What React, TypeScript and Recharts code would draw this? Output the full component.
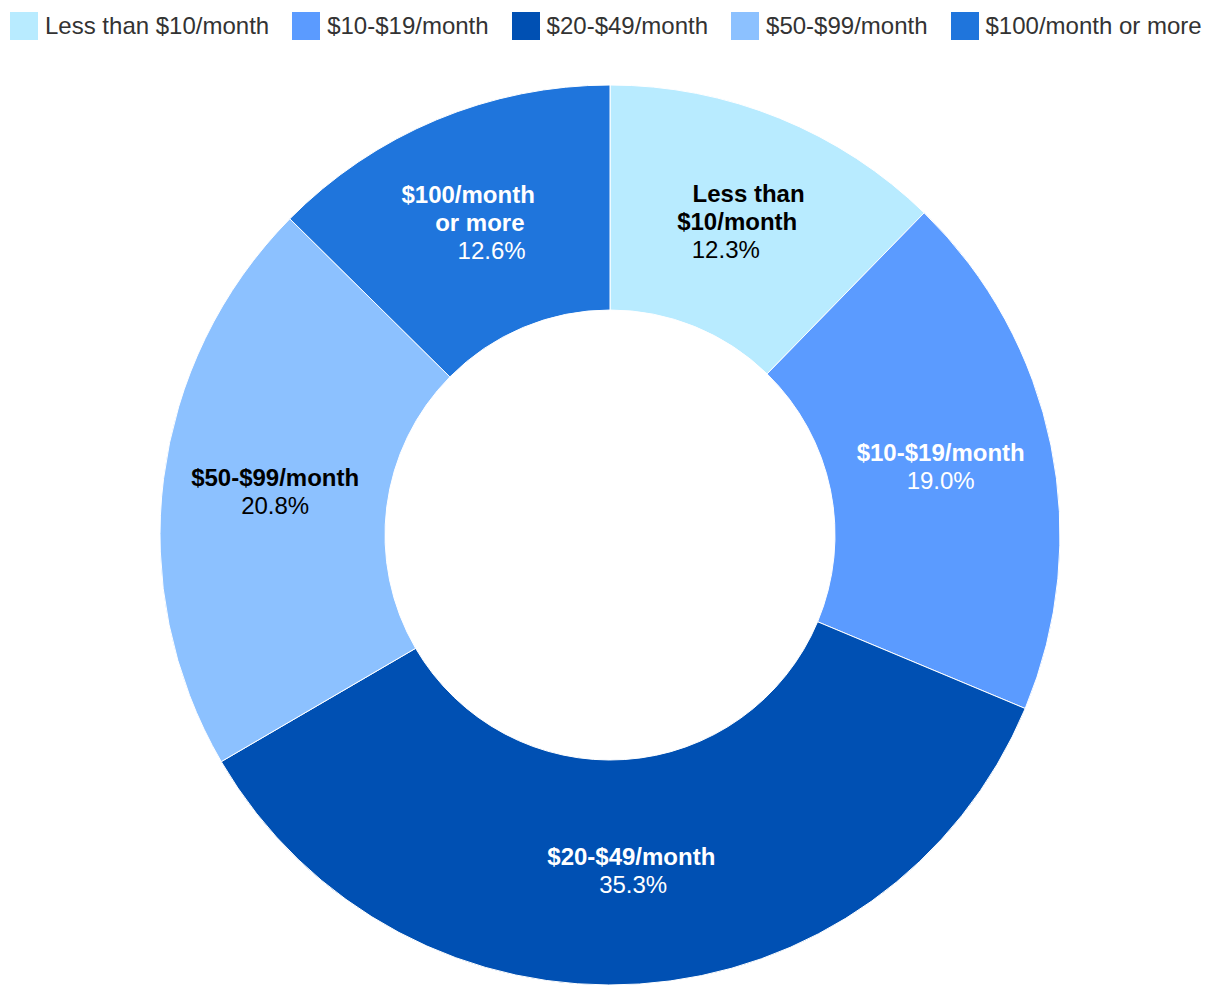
import React from "react";
import { PieChart, Pie, Cell, Legend } from "recharts";

const categories = [
  "Less than $10/month",
  "$10-$19/month",
  "$20-$49/month",
  "$50-$99/month",
  "$100/month or more",
];
const sliceLabelLines = [
  ["Less than", "$10/month"],
  ["$10-$19/month"],
  ["$20-$49/month"],
  ["$50-$99/month"],
  ["$100/month", "or more"],
];
const shares = [12.3, 19.0, 35.3, 20.8, 12.6];
const colors = ["#b8ebff", "#5b9bff", "#0050b3", "#8cc1ff", "#1f75dc"];
const labelColors = ["#000000", "#ffffff", "#ffffff", "#000000", "#ffffff"];

const data = categories.map((name, i) => ({ name, value: shares[i] }));

const FONT = '"Liberation Sans", Arial, Helvetica, sans-serif';
const RADIAN = Math.PI / 180;
const LINE_H = 28;

const renderLabel = (props: any) => {
  const { cx, cy, midAngle, innerRadius, outerRadius, index } = props;
  const r = (innerRadius + outerRadius) / 2;
  const ux = Math.cos(-midAngle * RADIAN);
  const uy = Math.sin(-midAngle * RADIAN);
  const x = cx + r * ux;
  const y = cy + r * uy;
  const lines = [...sliceLabelLines[index], shares[index].toFixed(1) + "%"];
  const n = lines.length;
  const dxPerLine = Math.abs(uy) > 0.85 ? (LINE_H * ux) / uy : 0;
  return (
    <g>
      {lines.map((t, i) => {
        const k = i - (n - 1) / 2;
        const isPct = i === n - 1;
        return (
          <text
            key={i}
            x={x + k * dxPerLine}
            y={y - 1 + k * LINE_H}
            textAnchor="middle"
            dominantBaseline="central"
            fill={labelColors[index]}
            fontFamily={FONT}
            fontSize={24}
            fontWeight={isPct ? "normal" : "bold"}
          >
            {t}
          </text>
        );
      })}
    </g>
  );
};

const renderLegend = () => (
  <div style={{ display: "flex", alignItems: "center", fontFamily: FONT }}>
    {categories.map((c, i) => (
      <div
        key={c}
        style={{ display: "flex", alignItems: "center", marginRight: 23 }}
      >
        <div
          style={{
            width: 28,
            height: 28,
            background: colors[i],
            marginRight: 7,
          }}
        />
        <span style={{ fontSize: 24, color: "#333333", whiteSpace: "nowrap" }}>
          {c}
        </span>
      </div>
    ))}
  </div>
);

export default function App() {
  return (
    <PieChart
      width={1204}
      height={980}
      margin={{ top: 0, right: 0, bottom: 0, left: 0 }}
    >
      <Legend
        verticalAlign="bottom"
        content={renderLegend}
        wrapperStyle={{ top: 4, left: 2, bottom: "auto", width: 1220 }}
      />
      <Pie
        data={data}
        dataKey="value"
        nameKey="name"
        cx={602}
        cy={527}
        innerRadius={225}
        outerRadius={450}
        startAngle={90}
        endAngle={-270}
        stroke="#ffffff"
        strokeWidth={1}
        label={renderLabel}
        labelLine={false}
        isAnimationActive={false}
      >
        {data.map((d, i) => (
          <Cell key={d.name} fill={colors[i]} />
        ))}
      </Pie>
    </PieChart>
  );
}
